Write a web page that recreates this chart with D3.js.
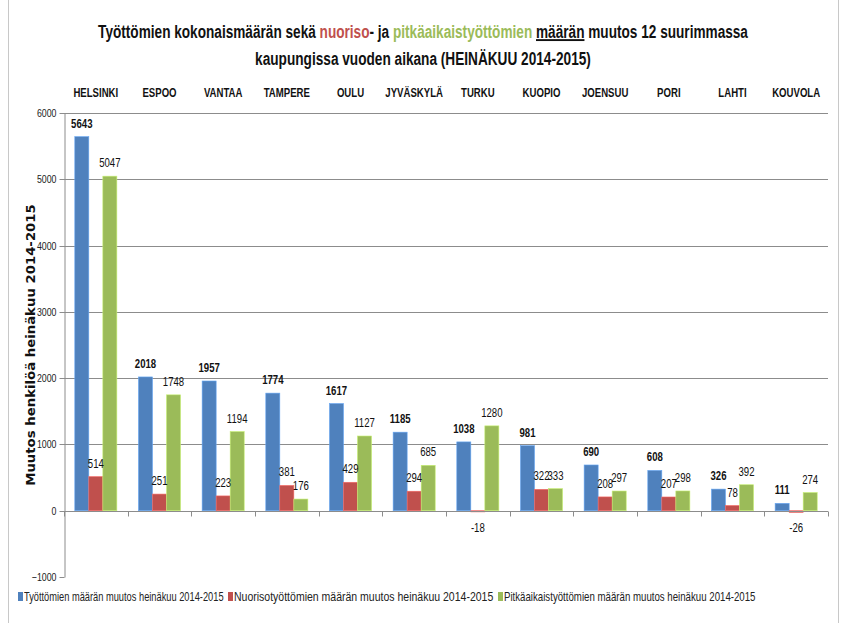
<!DOCTYPE html>
<html><head><meta charset="utf-8">
<script src="https://cdn.jsdelivr.net/npm/d3@7"></script>
<style>body{margin:0;background:#fff}svg{display:block}</style>
</head><body>
<svg id="c" width="846" height="623"></svg>
<script>
const categories = ["HELSINKI","ESPOO","VANTAA","TAMPERE","OULU","JYVÄSKYLÄ","TURKU","KUOPIO","JOENSUU","PORI","LAHTI","KOUVOLA"];
const totalChange = [5643,2018,1957,1774,1617,1185,1038,981,690,608,326,111];
const youthChange = [514,251,223,381,429,294,-18,322,208,207,78,-26];
const longTermChange = [5047,1748,1194,176,1127,685,1280,333,297,298,392,274];
const seriesNames = ["Työttömien määrän muutos heinäkuu 2014-2015","Nuorisotyöttömien määrän muutos heinäkuu 2014-2015","Pitkäaikaistyöttömien määrän muutos heinäkuu 2014-2015"];
const yTicks = [-1000,0,1000,2000,3000,4000,5000,6000];

const colors = ["#4F81BD","#C0504D","#9BBB59"];
const FONT = "'Liberation Sans',Arial,sans-serif";
const svg = d3.select("#c");
const series = [totalChange, youthChange, longTermChange];

// horizontally condense a text element around its x anchor
function fitWidth(node, target){
  const w = node.getBBox().width;
  const f = target / w;
  const x = +node.getAttribute("x") || 0;
  node.setAttribute("transform", `translate(${x*(1-f)},0) scale(${f},1)`);
}
function condense(node, f){
  const x = +node.getAttribute("x") || 0;
  const prev = node.getAttribute("transform") || "";
  node.setAttribute("transform", `${prev} translate(${x*(1-f)},0) scale(${f},1)`);
}

// frame
svg.append("line").attr("x1",8.5).attr("x2",8.5).attr("y1",0).attr("y2",623).attr("stroke","#c8c8c8");
svg.append("line").attr("x1",838.5).attr("x2",838.5).attr("y1",0).attr("y2",623).attr("stroke","#c8c8c8");

const L=64, R=828, T=113, B=577;
const y = d3.scaleLinear().domain([-1000,6000]).range([B,T]);
const x0 = d3.scaleBand().domain(categories).range([L,R]).paddingInner(0).paddingOuter(0);
const x1 = d3.scaleBand().domain([0,1,2]).range([0,x0.bandwidth()]).paddingInner(0).paddingOuter(0.77);

// gridlines
svg.append("g").selectAll("line").data(yTicks.filter(t=>t!==0 && t!==-1000)).join("line")
  .attr("x1",L).attr("x2",R).attr("y1",d=>Math.round(y(d))+0.5).attr("y2",d=>Math.round(y(d))+0.5)
  .attr("stroke","#8c8c8c").attr("stroke-width",1);

// y axis
const ya = svg.append("g").attr("transform",`translate(${L+0.5},0)`)
  .call(d3.axisLeft(y).tickValues(yTicks).tickFormat(d3.format("d")).tickSize(5).tickSizeOuter(0).tickPadding(3));
ya.select(".domain").attr("stroke","#8c8c8c");
ya.selectAll(".tick line").attr("stroke","#8c8c8c");
ya.selectAll(".tick").attr("transform",d=>`translate(0,${Math.round(y(d))+0.5})`);
ya.selectAll(".tick text").attr("font-family",FONT).attr("font-size",11).attr("fill","#222")
  .each(function(){ const x=+this.getAttribute("x"); this.setAttribute("transform",`translate(${x*(1-0.8)},0) scale(0.8,1)`); });

// bars
const g = svg.append("g");
categories.forEach((c,i)=>{
  series.forEach((s,k)=>{
    const v=s[i];
    const xx = x0(c)+x1(k);
    g.append("rect").attr("x",xx).attr("width",x1.bandwidth())
      .attr("y",y(Math.max(0,v))).attr("height",Math.abs(y(v)-y(0)))
      .attr("fill",colors[k]).attr("stroke",d3.color(colors[k]).brighter(0.7)).attr("stroke-width",0.6);
  });
});

// x axis line at 0 with ticks
const zy = Math.round(y(0))+0.5;
svg.append("line").attr("x1",L).attr("x2",R).attr("y1",zy).attr("y2",zy).attr("stroke","#8c8c8c");
svg.append("g").selectAll("line").data(d3.range(categories.length+1)).join("line")
  .attr("x1",d=>Math.round(L+d*x0.bandwidth())+0.5).attr("x2",d=>Math.round(L+d*x0.bandwidth())+0.5)
  .attr("y1",zy).attr("y2",zy+5).attr("stroke","#8c8c8c");

// category labels at top
svg.append("g").selectAll("text").data(categories).join("text")
  .attr("x",d=>x0(d)+x0.bandwidth()/2).attr("y",97).attr("text-anchor","middle")
  .attr("font-family",FONT).attr("font-size",12).attr("font-weight","bold").attr("fill","#111").text(d=>d)
  .each(function(){ condense(this,0.8); });

// data labels
categories.forEach((c,i)=>{
  series.forEach((s,k)=>{
    const v=s[i];
    const cx = x0(c)+x1(k)+x1.bandwidth()/2;
    const ty = v>=0 ? y(v)-9 : y(0)+21;
    const t = g.append("text").attr("x",cx).attr("y",ty).attr("text-anchor","middle")
      .attr("font-family",FONT).attr("font-size",12).attr("font-weight",k===0?"bold":"normal")
      .attr("fill","#111").text(v);
    condense(t.node(),0.8);
  });
});

// y axis title
const yt = svg.append("text").attr("x",0).attr("y",0).attr("text-anchor","middle")
  .attr("font-family","'DejaVu Sans',sans-serif").attr("font-size",13).attr("font-weight","bold").attr("fill","#111")
  .text("Muutos henkilöä heinäkuu 2014-2015");
{ const w = yt.node().getBBox().width; const f = 282/w;
  yt.attr("transform",`translate(35,345) rotate(-90) scale(${f},1)`); }

// title
const t1 = svg.append("text").attr("x",423).attr("y",38).attr("text-anchor","middle")
  .attr("font-family",FONT).attr("font-size",19).attr("font-weight","bold").attr("fill","#111");
t1.append("tspan").text("Työttömien kokonaismäärän sekä ");
t1.append("tspan").attr("fill","#C0504D").text("nuoriso");
t1.append("tspan").text("- ja ");
t1.append("tspan").attr("fill","#9BBB59").text("pitkäaikaistyöttömien");
t1.append("tspan").text(" ");
t1.append("tspan").attr("text-decoration","underline").text("määrän");
t1.append("tspan").text(" muutos 12 suurimmassa");
fitWidth(t1.node(), 651);
const t2 = svg.append("text").attr("x",423).attr("y",65).attr("text-anchor","middle")
  .attr("font-family",FONT).attr("font-size",19).attr("font-weight","bold").attr("fill","#111")
  .text("kaupungissa vuoden aikana (HEINÄKUU 2014-2015)");
fitWidth(t2.node(), 336);

// legend
const lg = svg.append("g");
const legW = [200, 260, 252];
let lx = 18;
seriesNames.forEach((n,k)=>{
  lg.append("rect").attr("x",lx).attr("y",592).attr("width",5).attr("height",9).attr("fill",colors[k]);
  const tt = lg.append("text").attr("x",lx+6).attr("y",601).attr("font-family",FONT).attr("font-size",12).attr("fill","#222").text(n);
  fitWidth(tt.node(), legW[k]);
  lx += 6 + legW[k] + 4;
});
</script>
</body></html>
